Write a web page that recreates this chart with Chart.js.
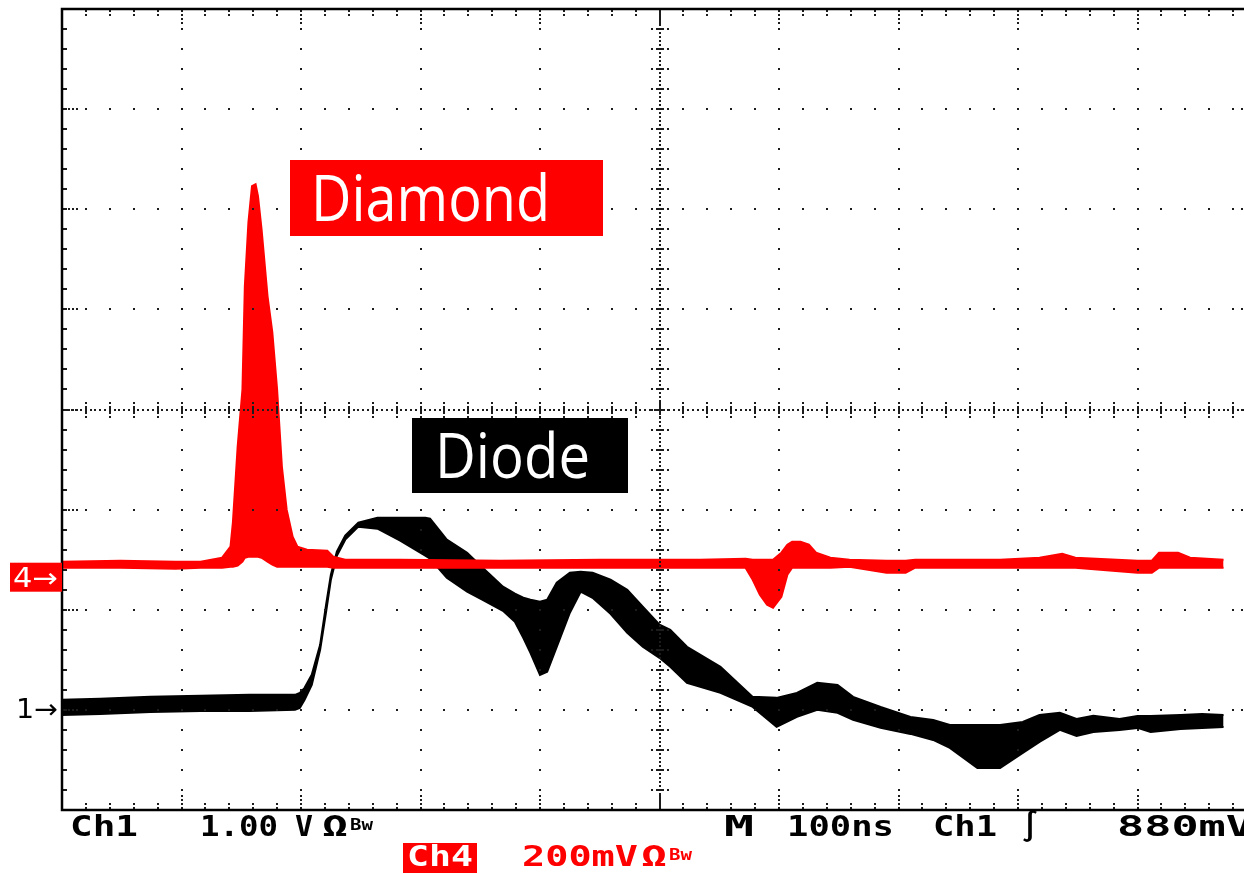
<!DOCTYPE html>
<html>
<head>
<meta charset="utf-8">
<title>Diamond vs diode response</title>
<script src="https://cdn.jsdelivr.net/npm/chart.js@4.4.1/dist/chart.umd.min.js"></script>
<style>
  html, body { margin: 0; padding: 0; background: #fff; overflow: hidden; }
  canvas { display: block; }
</style>
</head>
<body>
<canvas id="scope" width="1260" height="874"></canvas>
<script>
// Ch1 - diode, 1.00 V/div. Time in ns, upper / lower edge of the trace in V
const ch1Time = [0, 32, 74, 116, 157, 195, 199, 203, 209, 216, 221, 225, 230, 237, 248, 264, 283, 304, 308,
  322, 339, 352, 369, 379, 386, 392, 400, 406, 414, 425, 434, 444, 459, 473, 486, 500, 509, 523, 551, 578,
  598, 615, 632, 649, 662, 685, 710, 729, 743, 766, 785, 804, 818, 835, 849, 863, 885, 900, 911, 936, 954, 972];
const ch1High = [0.07, 0.08, 0.10, 0.11, 0.12, 0.12, 0.14, 0.19, 0.32, 0.62, 1.02, 1.32, 1.55, 1.71, 1.84, 1.89, 1.89, 1.89, 1.88,
  1.67, 1.54, 1.39, 1.20, 1.13, 1.09, 1.07, 1.05, 1.07, 1.24, 1.34, 1.35, 1.34, 1.27, 1.17, 1.00, 0.82, 0.77, 0.60, 0.40, 0.10,
  0.09, 0.14, 0.24, 0.22, 0.10, 0.00, -0.10, -0.13, -0.18, -0.18, -0.18, -0.15, -0.08, -0.06, -0.12, -0.09, -0.12, -0.09, -0.09, -0.08, -0.07, -0.08];
const ch1Low = [-0.08, -0.07, -0.05, -0.04, -0.04, -0.03, -0.01, 0.07, 0.22, 0.57, 0.95, 1.27, 1.51, 1.67, 1.80, 1.78, 1.66, 1.51, 1.48,
  1.29, 1.15, 1.07, 0.96, 0.85, 0.69, 0.54, 0.32, 0.35, 0.60, 0.94, 1.15, 1.09, 0.93, 0.74, 0.60, 0.49, 0.40, 0.24, 0.14, 0.00,
  -0.20, -0.10, -0.03, -0.06, -0.13, -0.21, -0.27, -0.33, -0.41, -0.61, -0.61, -0.46, -0.35, -0.23, -0.29, -0.25, -0.23, -0.21, -0.25, -0.22, -0.21, -0.20];

// Ch4 - diamond, 200 mV/div. Time in ns, upper / lower edge of the trace in mV
const ch4Time = [0, 49, 95, 116, 134, 141, 143, 147, 151, 153, 156, 159, 162, 164, 167, 172, 176, 180, 184, 188, 193, 197,
  205, 222, 227, 237, 283, 367, 450, 534, 572, 578, 584, 590, 595, 602, 607, 611, 618, 625, 631, 643, 659,
  690, 706, 714, 785, 818, 837, 848, 900, 912, 918, 934, 944, 972];
const ch4High = [28, 30, 28, 28, 36, 58, 106, 258, 372, 578, 706, 778, 782, 758, 692, 558, 486, 372, 218, 132, 78, 58,
  52, 50, 38, 32, 32, 30, 32, 32, 34, 32, 32, 32, 32, 46, 62, 68, 68, 62, 46, 36, 32,
  30, 30, 32, 32, 36, 44, 36, 30, 30, 46, 46, 36, 32];
const ch4Low = [16, 16, 14, 16, 16, 18, 18, 20, 28, 36, 38, 38, 38, 38, 36, 28, 22, 18, 18, 18, 18, 18,
  18, 18, 16, 16, 16, 16, 16, 16, 16, -8, -38, -58, -64, -42, 2, 16, 16, 16, 16, 16, 18,
  6, 6, 16, 16, 16, 16, 16, 6, 6, 16, 16, 16, 16];

// vertical settings: units per division and ground marker position in divisions from centre
const CH1_PER_DIV = 1.0;
const CH1_POSITION = -2.97;
const CH4_PER_DIV = 200;
const CH4_POSITION = -1.66;

const trace = (time, vals, perDiv, pos) => time.map((t, i) => ({ x: t, y: vals[i] / perDiv + pos }));

const RED = '#ff0000';
const BLACK = '#000000';

const band = (data, color, fill) => ({
  data,
  borderColor: color,
  backgroundColor: color,
  borderWidth: 2,
  pointRadius: 0,
  tension: 0,
  fill
});

const fitText = (ctx, text, left, baseline, width, font, color) => {
  ctx.save();
  ctx.font = font;
  ctx.fillStyle = color;
  ctx.textBaseline = 'alphabetic';
  const w = ctx.measureText(text).width;
  ctx.translate(left, baseline);
  ctx.scale(width / w, 1);
  ctx.fillText(text, 0, 0);
  ctx.restore();
};

// scope graticule, drawn over the traces
const graticule = {
  id: 'graticule',
  afterDatasetsDraw(chart) {
    const { ctx, chartArea: a, scales: { x, y } } = chart;
    const dot = (px, py, w = 2, h = 2) => ctx.fillRect(Math.round(px - w / 2), Math.round(py - h / 2), w, h);
    const minorX = [];
    const minorY = [];
    for (let i = 0; i <= 50; i++) minorX.push(x.getPixelForValue(i * 20));
    for (let j = 0; j <= 40; j++) minorY.push(y.getPixelForValue(4 - j * 0.2));
    const cx = minorX[25];
    const cy = minorY[20];

    ctx.save();
    ctx.fillStyle = '#1c1c1c';

    // dotted division lines
    for (let i = 5; i < 50; i += 5) {
      if (i !== 25) minorY.forEach(py => dot(minorX[i], py));
    }
    for (let j = 5; j < 40; j += 5) {
      if (j !== 20) minorX.forEach(px => dot(px, minorY[j]));
    }

    // centre axes
    for (let i = 0; i < 50; i++) {
      for (let k = 1; k < 5; k++) dot(minorX[i] + (minorX[i + 1] - minorX[i]) * k / 5, cy);
    }
    for (let j = 0; j < 40; j++) {
      for (let k = 1; k < 5; k++) dot(cx, minorY[j] + (minorY[j + 1] - minorY[j]) * k / 5);
    }
    minorX.forEach(px => { dot(px, cy, 2, 8); dot(px, cy - 7); dot(px, cy + 7); });
    minorY.forEach(py => { dot(cx, py, 8, 2); dot(cx - 8, py); dot(cx + 8, py); });

    // ticks along the frame
    minorX.forEach((px, i) => {
      const n = i % 5 === 0 ? 4 : 2;
      for (let k = 0; k < n; k++) {
        dot(px, a.top + 2 + 4 * k);
        dot(px, a.bottom - 2 - 4 * k);
      }
    });
    minorY.forEach((py, j) => {
      dot(a.left + 3, py, 4, 2);
      dot(a.right - 3, py, 4, 2);
      if (j % 5 === 0) {
        for (let k = 0; k < 3; k++) {
          dot(a.left + 7 + 4 * k, py);
          dot(a.right - 7 - 4 * k, py);
        }
      }
    });

    ctx.strokeStyle = '#000';
    ctx.lineWidth = 2.5;
    ctx.strokeRect(a.left, a.top, a.right - a.left, a.bottom - a.top);
    ctx.restore();
  }
};

// channel markers, trace names and the readout line
const readout = {
  id: 'readout',
  afterDraw(chart) {
    const { ctx, chartArea: a, scales: { y } } = chart;
    const mono = 'bold 29px "DejaVu Sans Mono"';
    const small = 'bold 16px "DejaVu Sans Mono"';
    const sans = '27px "DejaVu Sans"';

    // ground markers
    const g4 = y.getPixelForValue(CH4_POSITION);
    ctx.fillStyle = RED;
    ctx.fillRect(10, g4 - 13, a.left - 10, 29);
    fitText(ctx, '4\u2192', 13, g4 + 11, 45, sans, '#fff');
    const g1 = y.getPixelForValue(CH1_POSITION);
    fitText(ctx, '1\u2192', 16, g1 + 11, 42, sans, BLACK);

    // trace names
    ctx.fillStyle = RED;
    ctx.fillRect(290, 160, 313, 76);
    fitText(ctx, 'Diamond', 311, 221, 239, '64px "Open Sans"', '#fff');
    ctx.fillStyle = BLACK;
    ctx.fillRect(412, 418, 216, 75);
    fitText(ctx, 'Diode', 435, 478, 155, '63px "Open Sans"', '#fff');

    // readout
    const base1 = a.bottom + 26;
    fitText(ctx, 'Ch1', 70, base1, 68, mono, BLACK);
    fitText(ctx, '1.00', 200, base1, 78, mono, BLACK);
    fitText(ctx, 'V', 295, base1, 18, mono, BLACK);
    fitText(ctx, '\u03a9', 322, base1, 26, mono, BLACK);
    fitText(ctx, 'Bw', 350, base1 - 6, 23, small, BLACK);
    fitText(ctx, 'M', 724, base1, 30, mono, BLACK);
    fitText(ctx, '100ns', 787, base1, 107, mono, BLACK);
    fitText(ctx, 'Ch1', 933, base1, 64, mono, BLACK);
    fitText(ctx, '\u222b', 1021, base1, 18, mono, BLACK);
    fitText(ctx, '880mV', 1117, base1, 136, mono, BLACK);

    const base2 = a.bottom + 56;
    ctx.fillStyle = RED;
    ctx.fillRect(403, base2 - 23, 74, 30);
    fitText(ctx, 'Ch4', 407, base2, 66, mono, '#fff');
    fitText(ctx, '200mV', 522, base2, 116, mono, RED);
    fitText(ctx, '\u03a9', 641, base2, 26, mono, RED);
    fitText(ctx, 'Bw', 669, base2 - 6, 23, small, RED);
  }
};

new Chart(document.getElementById('scope'), {
  type: 'line',
  data: {
    datasets: [
      band(trace(ch4Time, ch4High, CH4_PER_DIV, CH4_POSITION), RED, '+1'),
      band(trace(ch4Time, ch4Low, CH4_PER_DIV, CH4_POSITION), RED, false),
      band(trace(ch1Time, ch1High, CH1_PER_DIV, CH1_POSITION), BLACK, '+1'),
      band(trace(ch1Time, ch1Low, CH1_PER_DIV, CH1_POSITION), BLACK, false)
    ]
  },
  options: {
    responsive: false,
    devicePixelRatio: 1,
    animation: false,
    layout: { padding: { left: 62, top: 9, right: 3, bottom: 64 } },
    plugins: { legend: { display: false }, tooltip: { enabled: false } },
    scales: {
      x: { type: 'linear', min: 0, max: 1000, display: false },
      y: { type: 'linear', min: -4, max: 4, display: false }
    }
  },
  plugins: [graticule, readout]
});
</script>
</body>
</html>
